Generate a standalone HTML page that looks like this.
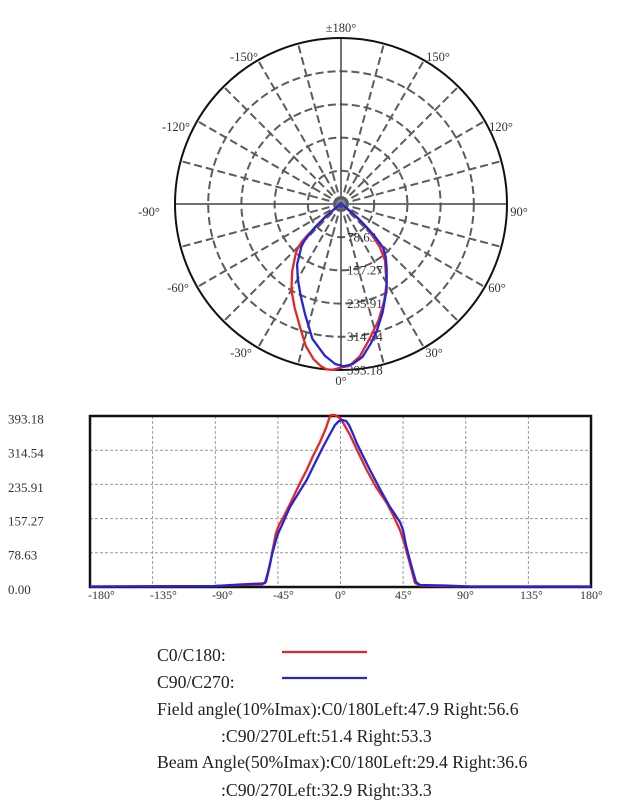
<!DOCTYPE html>
<html>
<head>
<meta charset="utf-8">
<style>
  html, body { margin:0; padding:0; background:#fff; }
  body { width:624px; height:800px; overflow:hidden; }
  svg { display:block; }
  text { font-family: "Liberation Serif", serif; }
</style>
</head>
<body>
<svg width="624" height="800" viewBox="0 0 624 800" xmlns="http://www.w3.org/2000/svg">
  <rect x="0" y="0" width="624" height="800" fill="#fff"/>

  <!-- ============ POLAR CHART ============ -->
  <g fill="none" stroke="#5c5c5c" stroke-width="2" stroke-dasharray="8 4">
    <circle cx="341" cy="204" r="33.2"/>
    <circle cx="341" cy="204" r="66.4"/>
    <circle cx="341" cy="204" r="99.6"/>
    <circle cx="341" cy="204" r="132.8"/>
  </g>
  <g stroke="#5c5c5c" stroke-width="2" stroke-dasharray="8 4">
    <line x1="341" y1="204" x2="341" y2="370" transform="rotate(15 341 204)"/>
    <line x1="341" y1="204" x2="341" y2="370" transform="rotate(30 341 204)"/>
    <line x1="341" y1="204" x2="341" y2="370" transform="rotate(45 341 204)"/>
    <line x1="341" y1="204" x2="341" y2="370" transform="rotate(60 341 204)"/>
    <line x1="341" y1="204" x2="341" y2="370" transform="rotate(75 341 204)"/>
    <line x1="341" y1="204" x2="341" y2="370" transform="rotate(105 341 204)"/>
    <line x1="341" y1="204" x2="341" y2="370" transform="rotate(120 341 204)"/>
    <line x1="341" y1="204" x2="341" y2="370" transform="rotate(135 341 204)"/>
    <line x1="341" y1="204" x2="341" y2="370" transform="rotate(150 341 204)"/>
    <line x1="341" y1="204" x2="341" y2="370" transform="rotate(165 341 204)"/>
    <line x1="341" y1="204" x2="341" y2="370" transform="rotate(-15 341 204)"/>
    <line x1="341" y1="204" x2="341" y2="370" transform="rotate(-30 341 204)"/>
    <line x1="341" y1="204" x2="341" y2="370" transform="rotate(-45 341 204)"/>
    <line x1="341" y1="204" x2="341" y2="370" transform="rotate(-60 341 204)"/>
    <line x1="341" y1="204" x2="341" y2="370" transform="rotate(-75 341 204)"/>
    <line x1="341" y1="204" x2="341" y2="370" transform="rotate(-105 341 204)"/>
    <line x1="341" y1="204" x2="341" y2="370" transform="rotate(-120 341 204)"/>
    <line x1="341" y1="204" x2="341" y2="370" transform="rotate(-135 341 204)"/>
    <line x1="341" y1="204" x2="341" y2="370" transform="rotate(-150 341 204)"/>
    <line x1="341" y1="204" x2="341" y2="370" transform="rotate(-165 341 204)"/>
  </g>
  <!-- solid axes -->
  <g stroke="#444" stroke-width="1.5">
    <line x1="341" y1="38" x2="341" y2="370"/>
    <line x1="175" y1="204" x2="507" y2="204"/>
  </g>
  <circle cx="341" cy="204" r="166" fill="none" stroke="#111" stroke-width="2"/>
  <circle cx="341" cy="204" r="5" fill="#888" stroke="#666" stroke-width="1"/>

  <!-- polar angle labels -->
  <g font-size="12.5" fill="#333" text-anchor="middle">
    <text x="341" y="32">±180°</text>
    <text x="244" y="61">-150°</text>
    <text x="438" y="61">150°</text>
    <text x="176" y="131">-120°</text>
    <text x="501" y="131">120°</text>
    <text x="149" y="216">-90°</text>
    <text x="519" y="216">90°</text>
    <text x="178" y="292">-60°</text>
    <text x="497" y="292">60°</text>
    <text x="241" y="357">-30°</text>
    <text x="434" y="357">30°</text>
    <text x="341" y="385">0°</text>
  </g>
  <!-- ring labels -->
  <g font-size="13" fill="#333">
    <text x="347" y="241.5">78.63</text>
    <text x="347" y="274.7">157.27</text>
    <text x="347" y="307.9">235.91</text>
    <text x="347" y="341.1">314.54</text>
    <text x="347" y="374.3">393.18</text>
  </g>

  <!-- polar curves -->
  <path fill="none" stroke="#e3262a" stroke-width="2.3" stroke-linejoin="round"
    d="M340.2,204 L339.4,204.6 L339.3,205 L338.9,205.4 L337,207 L325.7,216.8 L307,235.7 L301.6,242.1 L297.2,249.4 L295.5,254.6 L292.2,271.1 L291.4,289.8 L294.7,308 L300.5,328.7 L305.7,345.8 L313.6,359.3 L321.1,366.3 L326.5,369.4 L332.3,369.8 L341,367.5 L349.5,365.7 L359.7,356.4 L369.6,338.8 L378.7,320 L384.2,301 L386.6,283.1 L385.6,270.1 L385,260.3 L379.9,247.2 L374.4,238.6 L369.6,231.7 L364.4,225.1 L356.2,216.8 L347.5,209.1 L343,205.5 L342.7,205 L341.8,204.1 Z"/>
  <path fill="none" stroke="#2326d6" stroke-width="2.3" stroke-linejoin="round"
    d="M340.2,204 L338.7,204.9 L338.4,205.5 L338.2,205.9 L337,206.9 L325.5,216.5 L313.9,228.4 L304.6,240.4 L301.4,246.5 L299.9,252.9 L297.1,264.4 L297.8,278.7 L300.5,295 L305.1,314.5 L312.4,338.8 L325,355.9 L335.4,364.1 L343.8,366.3 L352.2,364.3 L362.5,356.9 L370.7,343.7 L377.1,330 L382.6,312.5 L386.6,289.7 L386.7,269.3 L385.8,257.4 L383.1,247.6 L375.6,237.4 L366.9,227.4 L358.8,218.9 L349,210 L343.7,205.9 L343.2,205.2 L342,204.2 Z"/>
  <circle cx="341" cy="205" r="3" fill="#3a3ab0"/>

  <!-- ============ LINE CHART ============ -->
  <g stroke="#999" stroke-width="1" stroke-dasharray="3 2">
    <line x1="152.6" y1="416" x2="152.6" y2="587"/>
    <line x1="215.3" y1="416" x2="215.3" y2="587"/>
    <line x1="277.9" y1="416" x2="277.9" y2="587"/>
    <line x1="340.5" y1="416" x2="340.5" y2="587"/>
    <line x1="403.1" y1="416" x2="403.1" y2="587"/>
    <line x1="465.7" y1="416" x2="465.7" y2="587"/>
    <line x1="528.4" y1="416" x2="528.4" y2="587"/>
    <line x1="90" y1="450.2" x2="591" y2="450.2"/>
    <line x1="90" y1="484.4" x2="591" y2="484.4"/>
    <line x1="90" y1="518.6" x2="591" y2="518.6"/>
    <line x1="90" y1="552.8" x2="591" y2="552.8"/>
  </g>
  <rect x="90" y="416" width="501" height="171" fill="none" stroke="#111" stroke-width="2.5"/>

  <path fill="none" stroke="#e3262a" stroke-width="2.3" stroke-linejoin="round"
    d="M90,586.5 L215,586 L240,585 L262,584.5 L266,582 L270,565 L272,553 L274,543 L276,533 L279,525 L284,516 L290,504 L300,483 L306.7,470 L313,456 L320,442 L326,428 L329,419 L331,415 L335,415 L338,417 L341,419 L345,426 L350,435 L358,452 L366.7,470 L376,487 L386.7,503 L393,515 L400,530 L404,542 L407,553 L411,568 L415,583 L420,585.5 L440,586 L470,586.5 L591,586.5"/>
  <path fill="none" stroke="#2326d6" stroke-width="2.3" stroke-linejoin="round"
    d="M90,586.5 L215,586 L240,584.5 L262,583.5 L265,583 L268,572 L272,555 L276,540 L278.3,533 L282,525 L290,507 L298,494 L306.7,480 L315,463 L323,447 L330,434 L335,425 L339,421 L342,420 L346,421 L349,425 L353,434 L356.7,443 L363,456 L370,470 L380,489 L390,507 L396,516 L400,522 L403,530 L406,545 L408,553 L412,568 L416,582 L420,585 L445,585.5 L470,586.5 L591,586.5"/>

  <!-- y labels -->
  <g font-size="13" fill="#333">
    <text x="8" y="423.5">393.18</text>
    <text x="8" y="457.5">314.54</text>
    <text x="8" y="492">235.91</text>
    <text x="8" y="525.5">157.27</text>
    <text x="8" y="559.5">78.63</text>
    <text x="8" y="594">0.00</text>
  </g>
  <!-- x labels -->
  <g font-size="12" fill="#333">
    <text x="88" y="599">-180°</text>
    <text x="150" y="599">-135°</text>
    <text x="212" y="599">-90°</text>
    <text x="273" y="599">-45°</text>
    <text x="335" y="599">0°</text>
    <text x="395" y="599">45°</text>
    <text x="457" y="599">90°</text>
    <text x="520" y="599">135°</text>
    <text x="580" y="599">180°</text>
  </g>

  <!-- ============ LEGEND ============ -->
  <g font-size="17.7" fill="#222">
    <text x="157" y="661">C0/C180:</text>
    <text x="157" y="688">C90/C270:</text>
    <text x="157" y="715">Field angle(10%Imax):C0/180Left:47.9 Right:56.6</text>
    <text x="221" y="742">:C90/270Left:51.4 Right:53.3</text>
    <text x="157" y="768">Beam Angle(50%Imax):C0/180Left:29.4 Right:36.6</text>
    <text x="221" y="796">:C90/270Left:32.9 Right:33.3</text>
  </g>
  <line x1="282" y1="652" x2="367" y2="652" stroke="#e3262a" stroke-width="2.3"/>
  <line x1="282" y1="678" x2="367" y2="678" stroke="#2326d6" stroke-width="2.3"/>
</svg>
</body>
</html>
